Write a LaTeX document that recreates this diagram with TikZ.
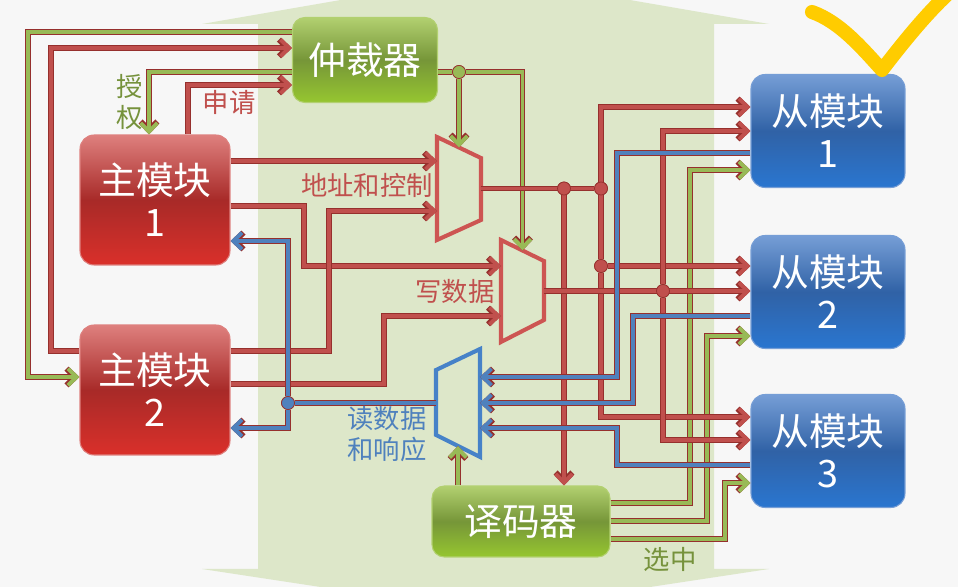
\documentclass[tikz,border=0pt]{standalone}
\usepackage{fontspec}
\setmainfont{Noto Sans CJK SC}
\usetikzlibrary{arrows.meta, calc}
\definecolor{bgpage}{RGB}{247,247,247}
\definecolor{bgband}{RGB}{221,231,201}
\definecolor{wirered}{RGB}{192,80,77}
\definecolor{wireedge}{RGB}{150,48,45}
\definecolor{wiregreen}{RGB}{152,186,86}
\definecolor{wireblue}{RGB}{79,129,189}
\definecolor{muxred}{RGB}{205,85,82}
\definecolor{muxblue}{RGB}{70,130,200}
\definecolor{txtgreen}{RGB}{118,146,60}
\definecolor{mtop}{RGB}{222,128,126}
\definecolor{mmid}{RGB}{168,42,40}
\definecolor{mbot}{RGB}{218,48,42}
\definecolor{stop}{RGB}{118,158,214}
\definecolor{smid}{RGB}{48,98,166}
\definecolor{sbot}{RGB}{42,118,208}
\definecolor{gtop}{RGB}{178,208,112}
\definecolor{gmid}{RGB}{118,150,56}
\definecolor{gbot}{RGB}{150,198,48}
\definecolor{checkyellow}{RGB}{255,204,0}

\begin{document}
\begin{tikzpicture}[
			x=0.02cm, y=-0.02cm,
			master/.style={rectangle, rounded corners=8pt, draw=mtop, line width=0.6pt, top color=mtop, bottom color=mbot, middle color=mmid, minimum width=3cm, minimum height=2.6cm, align=center, text=white, font=\fontsize{21.5}{24}\selectfont},
			slave/.style={rectangle, rounded corners=8pt, draw=stop, line width=0.6pt, top color=stop, bottom color=sbot, middle color=smid, minimum width=3.08cm, minimum height=2.26cm, align=center, text=white, font=\fontsize{21.5}{24}\selectfont},
			unit/.style={rectangle, rounded corners=7pt, draw=gtop, line width=0.6pt, top color=gtop, bottom color=gbot, middle color=gmid, align=center, text=white, font=\fontsize{21.5}{24}\selectfont},
			mux/.style={rectangle, inner sep=0pt, outer sep=0pt, minimum width=0.88cm},
			muxr/.style={draw=muxred, line width=2.3pt, line join=miter},
			muxb/.style={draw=muxblue, line width=2.3pt, line join=miter},
			wr/.style={draw=wirered, line width=2.2pt, preaction={draw=wireedge, line width=3.3pt}},
			wg/.style={draw=wiregreen, line width=2.2pt, preaction={draw=wireedge, line width=3.3pt}},
			wb/.style={draw=wireblue, line width=2.2pt, preaction={draw=wireedge, line width=3.3pt}},
			arrow/.style={-{Straight Barb[length=5pt, width=9.5pt]}},
			dotr/.style={circle, fill=wirered, draw=wireedge, line width=0.4pt, inner sep=0pt, minimum size=0.26cm},
			dotg/.style={circle, fill=wiregreen, draw=wireedge, line width=0.4pt, inner sep=0pt, minimum size=0.26cm},
			dotb/.style={circle, fill=wireblue, draw=wireedge, line width=0.4pt, inner sep=0pt, minimum size=0.26cm},
			lbl/.style={align=center, inner sep=0pt, font=\fontsize{15}{17.5}\selectfont}
			]
			
			\useasboundingbox (0,0) rectangle (958,587);
			\fill[bgpage] (0,0) rectangle (958,587);
			\begin{scope}
				\clip (0,0) rectangle (958,587);
				\fill[bgband] (258,24) -- (202,24) -- (485,-25) -- (769,24) -- (714,24) -- (714,569) -- (769,569) -- (485,612) -- (202,569) -- (258,569) -- cycle;
			\end{scope}
			
			\node[unit, minimum width=2.9cm, minimum height=1.7cm] (arb) at (365,60) {仲裁器};
			\node[master] (m1) at (155,200) {主模块\\1};
			\node[master] (m2) at (155,390) {主模块\\2};
			\node[slave] (s1) at (828,131) {从模块\\1};
			\node[slave] (s2) at (828,292) {从模块\\2};
			\node[slave] (s3) at (828,451) {从模块\\3};
			\node[unit, minimum width=3.56cm, minimum height=1.42cm] (dec) at (521,521.5) {译码器};
			
			\node[mux, minimum height=2.06cm] (mx1) at (459,188.5) {};
			\node[mux, minimum width=0.86cm, minimum height=2.04cm] (mx2) at (522.5,291) {};
			\node[mux, minimum height=2.16cm] (mx3) at (458,403) {};
			\draw[muxr] (mx1.north west) -- coordinate[pos=0.5] (mx1sel) ($(mx1.north east)+(0,21)$) -- ($(mx1.south east)+(0,-20)$) -- (mx1.south west) -- cycle;
			\draw[muxr] (mx2.north west) -- coordinate[pos=0.5] (mx2sel) ($(mx2.north east)+(0,21)$) -- ($(mx2.south east)+(0,-22)$) -- (mx2.south west) -- cycle;
			\draw[muxb] ($(mx3.north west)+(0,21)$) -- (mx3.north east) -- (mx3.south east) -- coordinate[pos=0.5] (mx3sel) ($(mx3.south west)+(0,-22)$) -- cycle;
			
			\node[dotg] (ja) at (mx1.center |- 0,72) {};
			\node[dotb] (jb) at (288,403) {};
			\node[dotr] (jc) at (564,188.5) {};
			\node[dotr] (jd) at (601,188.5) {};
			\node[dotr] (je) at (601,266) {};
			\node[dotr] (jf) at (663,291) {};
			
			\draw[wg, arrow] (arb.west |- 0,32) -- (28,32) |- (m2.west |- 0,377);
			\draw[wg, arrow] (arb.west |- 0,72) -| (m1.north -| 149,0);
			\draw[wg] (arb.east |- ja) -- (ja);
			\draw[wg, arrow] (ja) -- (mx1sel);
			\draw[wg, arrow] (ja) -| (mx2sel);
			\draw[wg, arrow] (dec.north -| mx3sel) -- (mx3sel);
			\draw[wg, arrow] (dec.east |- 0,503) -- (690,503) |- (s1.west |- 0,170);
			\draw[wg, arrow] (dec.east |- 0,521) -- (707,521) |- (s2.west |- 0,336);
			\draw[wg, arrow] (dec.east |- 0,539) -- (725,539) |- (s3.west |- 0,483);
			
			\draw[wr, arrow] (m2.west |- 0,351) -- (51,351) |- (arb.west |- 0,48);
			\draw[wr, arrow] (m1.north -| 188,0) |- (arb.west |- 0,85);
			\draw[wr, arrow] (m1.east |- 0,161) -- (mx1.west |- 0,161);
			\draw[wr, arrow] (m1.east |- 0,206) -- (304,206) |- (mx2.west |- 0,266);
			\draw[wr, arrow] (m2.east |- 0,351) -- (329,351) |- (mx1.west |- 0,211);
			\draw[wr, arrow] (m2.east |- 0,384) -- (384,384) |- (mx2.west |- 0,316);
			\draw[wr] (mx1.east) -- (jd);
			\draw[wr, arrow] (jc) -- (dec.north -| jc);
			\draw[wr, arrow] (jd) |- (s1.west |- 0,107);
			\draw[wr] (jd) -- (je);
			\draw[wr, arrow] (je) -- (s2.west |- je);
			\draw[wr, arrow] (je) |- (s3.west |- 0,417);
			\draw[wr, arrow] (mx2.east) -- (s2.west |- mx2.east);
			\draw[wr, arrow] (jf) |- (s1.west |- 0,131);
			\draw[wr, arrow] (jf) |- (s3.west |- 0,440);
			
			\draw[wb, arrow] (s1.west |- 0,153) -- (617,153) |- (mx3.east |- 0,377);
			\draw[wb, arrow] (s2.west |- 0,316) -- (633,316) |- (mx3.east);
			\draw[wb, arrow] (s3.west |- 0,465) -- (617,465) |- (mx3.east |- 0,428);
			\draw[wb] (mx3.west) -- (jb);
			\draw[wb, arrow] (jb) |- (m1.east |- 0,241);
			\draw[wb, arrow] (jb) |- (m2.east |- 0,428);
			
			\node[dotg] at (ja) {};
			\node[dotb] at (jb) {};
			\node[dotr] at (jc) {};
			\node[dotr] at (jd) {};
			\node[dotr] at (je) {};
			\node[dotr] at (jf) {};
			
			\node[lbl, text=txtgreen] (lgrant) at (130,102) {授\\权};
			\node[lbl, text=wirered] (lreq) at (229,102) {申请};
			\node[lbl, text=wirered] (laddr) at (367,185) {地址和控制};
			\node[lbl, text=wirered] (lwdata) at (455,292) {写数据};
			\node[lbl, text=wireblue] (lrdata) at (387,434) {读数据\\和响应};
			\node[lbl, text=txtgreen] (lsel) at (670,559) {选中};
			
			\draw[checkyellow, line width=8pt, line cap=round, line join=round] (812,12) .. controls (840,22) and (862,48) .. (882,70) .. controls (905,40) and (928,12) .. (950,-8);
		\end{tikzpicture}
\end{document}
